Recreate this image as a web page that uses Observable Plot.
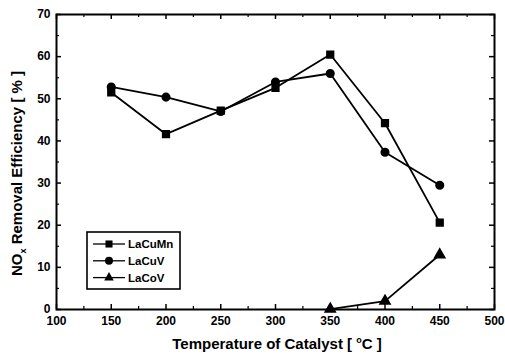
<!DOCTYPE html>
<html><head><meta charset="utf-8">
<script src="https://cdn.jsdelivr.net/npm/d3@7"></script>
<script src="https://cdn.jsdelivr.net/npm/@observablehq/plot@0.6"></script>
<style>
body{margin:0;background:#fff;}
#chart{position:relative;width:505px;height:355px;}
svg{font-family:"Liberation Sans",Arial,sans-serif;}
</style>
</head><body><div id="chart"></div>
<script>
const temps = [150, 200, 250, 300, 350, 400, 450];
const laCuMn = [51.5, 41.6, 47.2, 52.6, 60.5, 44.2, 20.6];
const laCuV  = [52.8, 50.4, 47.0, 54.0, 56.0, 37.3, 29.5];
const laCoVTemps = [350, 400, 450];
const laCoV = [0.1, 2.0, 13.0];
const seriesNames = ["LaCuMn", "LaCuV", "LaCoV"];
const seriesSymbols = ["square", "circle", "triangle"];
const xTicks = [100, 150, 200, 250, 300, 350, 400, 450, 500];
const xMinor = [125, 175, 225, 275, 325, 375, 425, 475];
const yTicks = [0, 10, 20, 30, 40, 50, 60, 70];
const yMinor = [5, 15, 25, 35, 45, 55, 65];

const rows = [];
temps.forEach((t,i)=>rows.push({s:"LaCuMn", t, v:laCuMn[i]}));
temps.forEach((t,i)=>rows.push({s:"LaCuV", t, v:laCuV[i]}));
laCoVTemps.forEach((t,i)=>rows.push({s:"LaCoV", t, v:laCoV[i]}));

const W=505,H=355, mL=56, mR=11, mT=14, mB=46;
const xPerPx = 400/(W-mL-mR), yPerPx = 70/(H-mT-mB);
const maj = 5, mn = 3;

const plot = Plot.plot({
  width: W, height: H,
  marginLeft: mL, marginRight: mR, marginTop: mT, marginBottom: mB,
  x: {domain:[100,500], ticks: xTicks},
  y: {domain:[0,70], ticks: yTicks},
  symbol: {domain: seriesNames, range: seriesSymbols},
  style: {fontFamily:"Liberation Sans, Arial, sans-serif", fontWeight:"bold", fontSize:"12px", color:"#000"},
  marks: [
    Plot.axisX({ticks: xTicks, tickSize: 0, tickPadding: 7, label: null, fontWeight:"bold", fontSize: 12}),
    Plot.axisY({ticks: yTicks, tickSize: 0, tickPadding: 6, label: null, fontWeight:"bold", fontSize: 12}),
    Plot.ruleX(xTicks, {x: d=>d, y1: 0, y2: maj*yPerPx, stroke:"#000", strokeWidth:1.5}),
    Plot.ruleX(xMinor, {x: d=>d, y1: 0, y2: mn*yPerPx, stroke:"#000", strokeWidth:1.2}),
    Plot.ruleX(xTicks, {x: d=>d, y1: 70, y2: 70-maj*yPerPx, stroke:"#000", strokeWidth:1.5}),
    Plot.ruleX(xMinor, {x: d=>d, y1: 70, y2: 70-mn*yPerPx, stroke:"#000", strokeWidth:1.2}),
    Plot.ruleY(yTicks, {y: d=>d, x1: 100, x2: 100+maj*xPerPx, stroke:"#000", strokeWidth:1.5}),
    Plot.ruleY(yMinor, {y: d=>d, x1: 100, x2: 100+mn*xPerPx, stroke:"#000", strokeWidth:1.2}),
    Plot.ruleY(yTicks, {y: d=>d, x1: 500, x2: 500-maj*xPerPx, stroke:"#000", strokeWidth:1.5}),
    Plot.ruleY(yMinor, {y: d=>d, x1: 500, x2: 500-mn*xPerPx, stroke:"#000", strokeWidth:1.2}),
    Plot.frame({stroke:"#000", strokeWidth:2}),
    Plot.line(rows, {x:"t", y:"v", z:"s", stroke:"#000", strokeWidth:1.8}),
    Plot.dot(rows, {x:"t", y:"v", symbol:"s", fill:"#000", stroke:"#000", r:3.8})
  ]
});
document.getElementById("chart").appendChild(plot);

const svg = d3.select(plot);
const yt = svg.append("text")
  .attr("transform", `translate(22,${mT+(H-mT-mB)/2 + 12}) rotate(-90)`)
  .attr("text-anchor","middle").attr("font-size",15).attr("font-weight","bold").attr("fill","#000");
yt.append("tspan").text("NO");
yt.append("tspan").attr("font-size",9).attr("dy",4).text("x");
yt.append("tspan").attr("dy",-4).text(" Removal Efficiency [ % ]");

const xt = svg.append("text")
  .attr("x", mL+(W-mL-mR)/2 + 2).attr("y", H-6)
  .attr("text-anchor","middle").attr("font-size",15).attr("font-weight","bold").attr("fill","#000");
xt.append("tspan").text("Temperature of Catalyst [ ");
xt.append("tspan").attr("font-size",9).attr("dy",-6).text("o");
xt.append("tspan").attr("dy",6).text("C ]");

const lg = svg.append("g");
lg.append("rect").attr("x",87).attr("y",232).attr("width",93).attr("height",57)
  .attr("fill","#fff").attr("stroke","#000").attr("stroke-width",1.6);
const d3syms = {square:d3.symbolSquare, circle:d3.symbolCircle, triangle:d3.symbolTriangle};
seriesNames.forEach((n,i)=>{
  const yy = 244 + i*16.8;
  lg.append("line").attr("x1",93).attr("x2",125).attr("y1",yy).attr("y2",yy)
    .attr("stroke","#000").attr("stroke-width",1.3);
  lg.append("path").attr("transform",`translate(109,${yy})`)
    .attr("d", d3.symbol().type(d3syms[seriesSymbols[i]]).size(i==2?40:50)()).attr("fill","#000");
  lg.append("text").attr("x",128).attr("y",yy+4).attr("text-anchor","start").attr("font-size",11.5)
    .attr("font-weight","bold").attr("fill","#000").text(n);
});
</script>
</body></html>
